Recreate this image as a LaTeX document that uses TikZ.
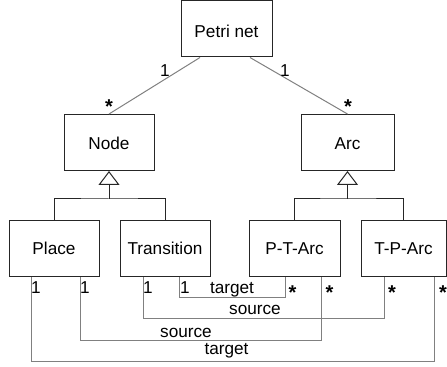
\documentclass[tikz,border=0pt]{standalone}
\usepackage{fontspec}
\setmainfont{Liberation Sans}
\usetikzlibrary{arrows.meta}

\begin{document}
\begin{tikzpicture}[x=0.75pt, y=-0.75pt, font=\fontsize{12.9}{15}\selectfont,
    cls/.style={draw=black!85, line width=0.75pt, minimum height=42pt,
      text height=9pt, text depth=0pt, inner sep=0pt},
    assoc/.style={draw=black!50, line width=0.75pt},
    gen/.style={draw=black!85, line width=0.75pt},
    genarrow/.style={gen, -{Triangle[open, length=10.5pt, width=15.75pt]}},
    mult/.style={anchor=base, inner sep=0pt},
    star/.style={anchor=north, inner sep=0pt, font=\fontsize{15}{15}\selectfont\bfseries},
    role/.style={anchor=base, inner sep=0pt}]
  \useasboundingbox (0,0) rectangle (447,367);
  % classes
  \node[cls, minimum width=68.25pt, text height=13.5pt] (petri) at (226.5,29) {Petri net};
  \node[cls, minimum width=67.5pt, text height=11.25pt] (node) at (109,142.5) {Node};
  \node[cls, minimum width=69.75pt, text height=11.25pt] (arc) at (347.5,142.5) {Arc};
  \node[cls, minimum width=67.5pt] (place) at (54,249) {Place};
  \node[cls, minimum width=67.5pt] (trans) at (165,249) {Transition};
  \node[cls, minimum width=68.25pt] (ptarc) at (294.5,249) {P-T-Arc};
  \node[cls, minimum width=63.75pt] (tparc) at (403.5,249) {T-P-Arc};
  % composition
  \draw[assoc] (200,0 |- petri.south) -- (node.north);
  \draw[assoc] (250,0 |- petri.south) -- (arc.north);
  \node[mult] (m1) at (165,77) {1};
  \node[mult] (m2) at (285,77) {1};
  \node[star] (s1) at (109,99) {*};
  \node[star] (s2) at (348,99) {*};
  % inheritance
  \coordinate (nodejoin) at (109,199);
  \coordinate (arcjoin) at (347.5,199);
  \draw[gen] (place.north) |- (nodejoin) -| (trans.north);
  \draw[genarrow] (nodejoin) -- (node.south);
  \draw[gen] (ptarc.north) |- (arcjoin) -| (tparc.north);
  \draw[genarrow] (arcjoin) -- (arc.south);
  % associations
  \draw[assoc] (179,0 |- trans.south) -- (179,298) -| (285,0 |- ptarc.south);
  \draw[assoc] (143,0 |- trans.south) -- (143,319) -| (384,0 |- tparc.south);
  \draw[assoc] (80,0 |- place.south) -- (80,341) -| (321,0 |- ptarc.south);
  \draw[assoc] (31,0 |- place.south) -- (31,362) -| (434,0 |- tparc.south);
  \node[mult] (m3) at (36,294) {1};
  \node[mult] (m4) at (85,294) {1};
  \node[mult] (m5) at (148,294) {1};
  \node[mult] (m6) at (185,294) {1};
  \node[star] (s3) at (292.5,285) {*};
  \node[star] (s4) at (329.5,285) {*};
  \node[star] (s5) at (392,285) {*};
  \node[star] (s6) at (443,285) {*};
  \node[role] (r1) at (232,294) {target};
  \node[role] (r2) at (255,315) {source};
  \node[role] (r3) at (186,338) {source};
  \node[role] (r4) at (226.5,355) {target};
\end{tikzpicture}
\end{document}
